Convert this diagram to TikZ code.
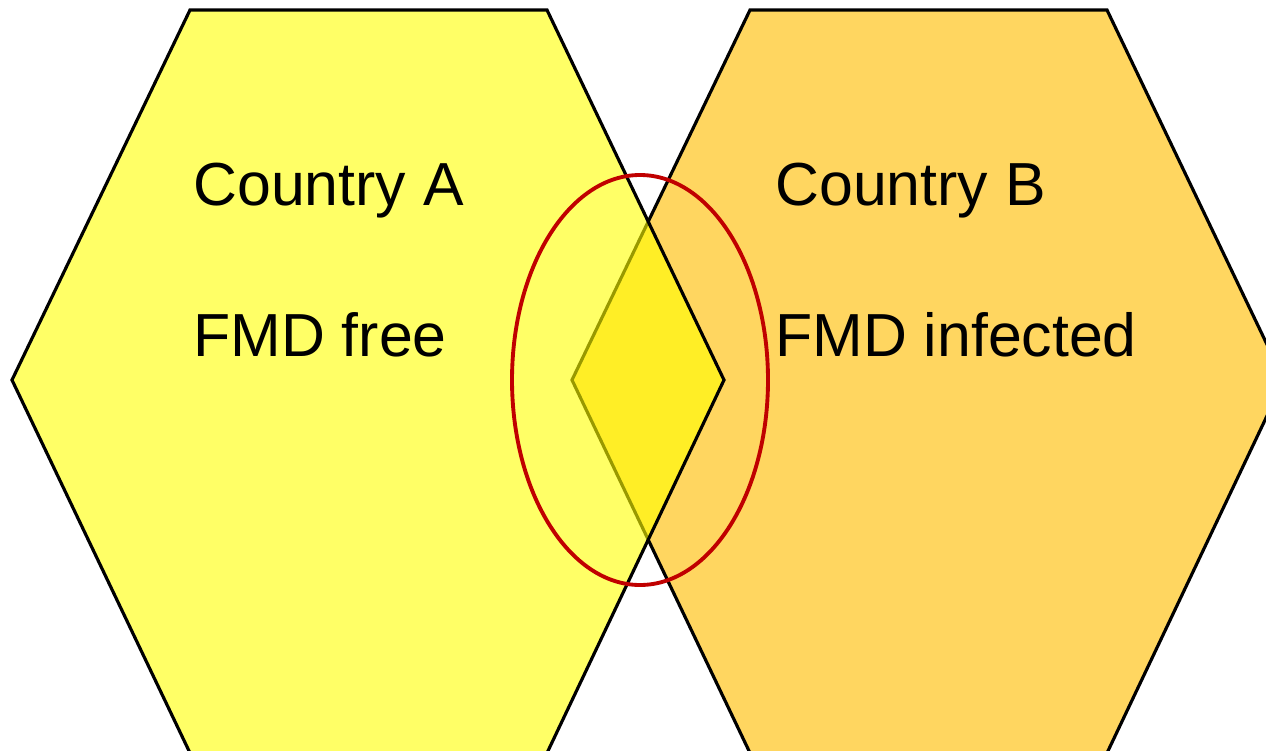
\documentclass[tikz,border=0pt]{standalone}
\usepackage{fontspec}
\setmainfont{Liberation Sans}

\definecolor{freeyellow}{RGB}{255,255,0}
\definecolor{infectedorange}{RGB}{255,214,96}
\definecolor{ringred}{RGB}{192,0,0}

\begin{document}
\begin{tikzpicture}[x=0.02cm,y=-0.02cm]
        \useasboundingbox (0,0) rectangle (1266,750);

        % country B, drawn first so A lies over it
        \draw[line width=1.8pt, fill=infectedorange]
            (572,380) -- (750,10) -- (1107,10) -- (1284,380) -- (1107,753) -- (750,753) -- cycle;

        % country A, half transparent so the overlap mixes
        \draw[line width=1.8pt, fill=freeyellow, fill opacity=0.6]
            (12,380) -- (190,10) -- (547,10) -- (724,380) -- (547,753) -- (190,753) -- cycle;

        % border zone
        \draw[ringred, line width=2.2pt] (640,380) ellipse [x radius=128, y radius=205];

        \begin{scope}[every node/.style={anchor=base west, inner sep=0pt, font=\fontsize{34.6}{40}\selectfont}]
            \node (1) at (193,205) {Country A};
            \node (2) at (193,356) {FMD free};
            \node (3) at (775,205) {Country B};
            \node (4) at (775,356) {FMD infected};
        \end{scope}
    \end{tikzpicture}
\end{document}
